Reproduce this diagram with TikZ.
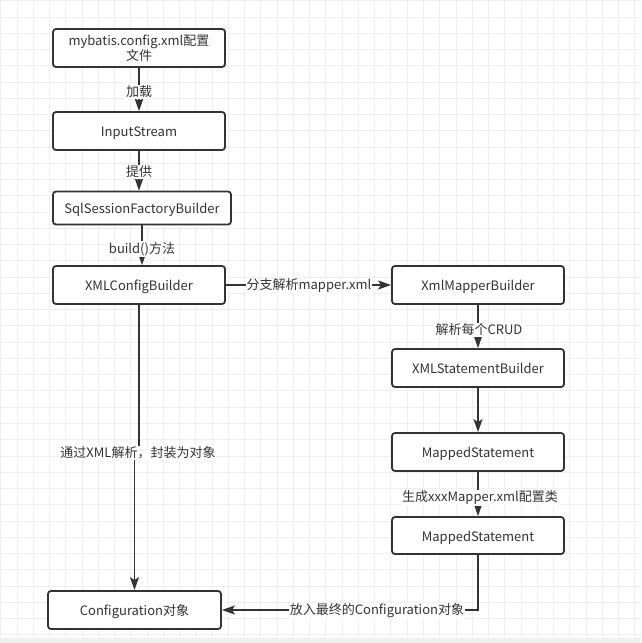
\documentclass[tikz,border=0pt]{standalone}
\usepackage{fontspec}
\setmainfont{Noto Sans CJK SC}
\usetikzlibrary{arrows.meta}
\definecolor{boxc}{HTML}{333333}
\definecolor{txtc}{HTML}{333333}
\definecolor{gridc}{HTML}{EFEFEF}
\definecolor{stripc}{HTML}{F0F0F0}
\begin{document}
\begin{tikzpicture}[x=1pt,y=-1pt,
  box/.style={draw=boxc, line width=1.8pt, rounded corners=3pt, fill=white, inner sep=0pt,
    text=txtc, font=\fontsize{13}{16}\selectfont, align=center,
    text height=11pt, text depth=0pt,
    minimum width=172pt, minimum height=38pt},
  conn/.style={draw=boxc, line width=1.8pt, -{Stealth[length=13pt,width=9pt,inset=3pt]}},
  lab/.style={fill=white, text=txtc, inner sep=1pt, font=\fontsize{13}{15}\selectfont}]
\useasboundingbox (0,0) rectangle (641,643);
\fill[white] (0,0) rectangle (641,643);
% grid
\foreach \k in {0,...,39}{
  \pgfmathsetmacro{\p}{0.74+16.26*\k}
  \draw[gridc, line width=1pt] (\p,0) -- (\p,638);
  \draw[gridc, line width=1pt] (0,\p) -- (641,\p);
}
\fill[stripc] (0,638) rectangle (641,643);
% nodes
\node[box, text height={}, text depth={}] (n1) at (139,48) {mybatis.config.xml配置\\[-1pt]文件};
\node[box] (n2) at (139,131) {InputStream};
\node[box, minimum width=178pt, minimum height=33pt] (n3) at (142,208) {SqlSessionFactoryBuilder};
\node[box] (n4) at (139,285) {XMLConfigBuilder};
\node[box] (n5) at (478,285) {XmlMapperBuilder};
\node[box] (n6) at (478,368) {XMLStatementBuilder};
\node[box] (n7) at (478,452) {MappedStatement};
\node[box, minimum height=37pt] (n8) at (478,535.5) {MappedStatement};
\node[box, minimum width=173pt] (n9) at (134.5,610) {Configuration对象};
\coordinate (jog) at (139,451);
% connectors
\draw[conn] (n1) -- (n2);
\draw[conn] (n2.south) -- (n2.south |- n3.north);
\draw[conn] (n3.south) -- (n3.south |- n4.north);
\draw[conn] (n4) -- (n5);
\draw[conn] (n5) -- (n6);
\draw[conn] (n6) -- (n7);
\draw[conn] (n7) -- (n8);
\draw[conn] (n8.south) |- (n9.east);
\draw[conn] (n4.south) -- (jog) -| (n9.north);
% labels
\node[lab] (l1) at (139,92) {加载};
\node[lab] (l2) at (139,172) {提供};
\node[lab] (l3) at (142,249) {build()方法};
\node[lab] (l4) at (309,286) {分支解析mapper.xml};
\node[lab] (l5) at (479,330) {解析每个CRUD};
\node[lab] (l6) at (480,498) {生成xxxMapper.xml配置类};
\node[lab] (l7) at (377,611) {放入最终的Configuration对象};
\node[lab] (l8) at (138,453) {通过XML解析，封装为对象};
\end{tikzpicture}
\end{document}
